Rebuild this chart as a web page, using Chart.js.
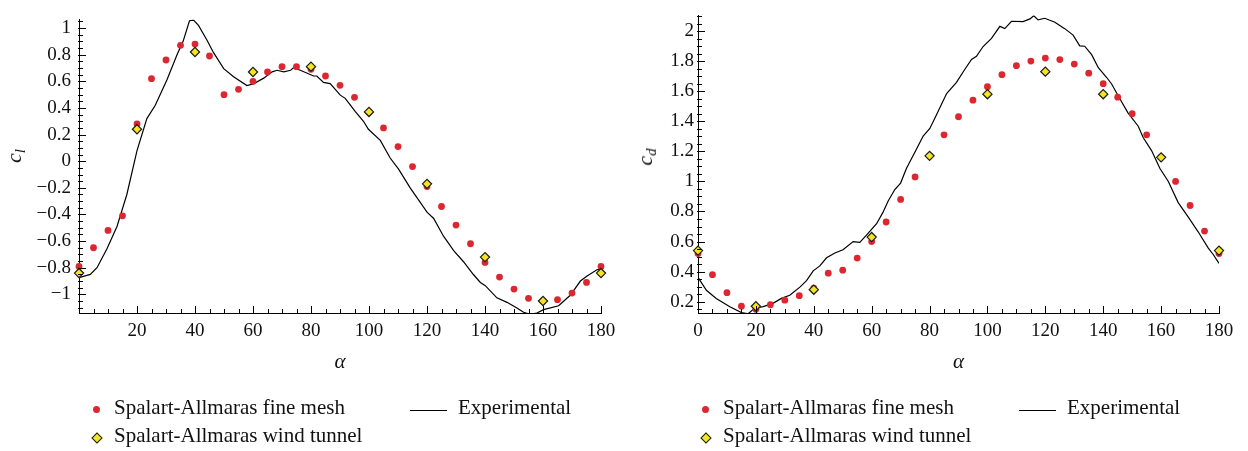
<!DOCTYPE html>
<html>
<head>
<meta charset="utf-8">
<script src="https://cdn.jsdelivr.net/npm/chart.js@4.4.1/dist/chart.umd.min.js"></script>
<style>
  body { margin: 0; background: #fff; }
  #wrap { position: relative; width: 1248px; height: 451px; overflow: hidden; }
  canvas { position: absolute; top: 0; }
  .txt { position: absolute; font-family: "Liberation Serif", serif; font-size: 21px; line-height: 21px; color: #111; white-space: nowrap; }
  .ytitle { position: absolute; font-family: "Liberation Serif", serif; font-style: italic; font-size: 22px; line-height: 22px; color: #111;
            transform: translate(-50%, -50%) rotate(-90deg); white-space: nowrap; }
  .ytitle sub { font-size: 15px; vertical-align: -4px; }
  .dot { position: absolute; width: 7px; height: 7px; border-radius: 50%; background: #dc2730; }
  .dia { position: absolute; width: 6px; height: 6px; background: #f3e620; border: 1.2px solid #1a1a1a; transform: rotate(45deg); }
  .ln { position: absolute; height: 1.2px; background: #000; }
</style>
</head>
<body>
<div id="wrap">
  <canvas id="clChart" width="624" height="451" style="left:0"></canvas>
  <canvas id="cdChart" width="624" height="451" style="left:624px"></canvas>

  <div class="ytitle" style="left:17px;top:156px">c<sub>l</sub></div>
  <div class="ytitle" style="left:648px;top:157px">c<sub>d</sub></div>

  <!-- legenda esquerda -->
  <div class="dot" style="left:93px;top:406px"></div>
  <div class="txt" style="left:114px;top:397px">Spalart-Allmaras fine mesh</div>
  <div class="ln" style="left:410px;top:410px;width:37px"></div>
  <div class="txt" style="left:458px;top:397px">Experimental</div>
  <div class="dia" style="left:93px;top:434px"></div>
  <div class="txt" style="left:114px;top:425px">Spalart-Allmaras wind tunnel</div>

  <!-- legenda direita -->
  <div class="dot" style="left:702px;top:406px"></div>
  <div class="txt" style="left:723px;top:397px">Spalart-Allmaras fine mesh</div>
  <div class="ln" style="left:1019px;top:410px;width:37px"></div>
  <div class="txt" style="left:1067px;top:397px">Experimental</div>
  <div class="dia" style="left:702px;top:434px"></div>
  <div class="txt" style="left:723px;top:425px">Spalart-Allmaras wind tunnel</div>
</div>

<script>
// ângulos das simulações
const alphaFine = [0, 5, 10, 15, 20, 25, 30, 35, 40, 45, 50, 55, 60, 65, 70, 75, 80, 85, 90,
  95, 100, 105, 110, 115, 120, 125, 130, 135, 140, 145, 150, 155, 160, 165, 170, 175, 180];
const alphaTunnel = [0, 20, 40, 60, 80, 100, 120, 140, 160, 180];

// coeficiente de sustentação
const clFine = [-0.79, -0.65, -0.52, -0.41, 0.28, 0.62, 0.76, 0.87, 0.88, 0.79, 0.50, 0.54, 0.60,
  0.67, 0.71, 0.71, 0.69, 0.64, 0.57, 0.48, 0.37, 0.25, 0.11, -0.04, -0.19, -0.34, -0.48, -0.62,
  -0.76, -0.87, -0.96, -1.03, -1.05, -1.04, -0.99, -0.91, -0.79];
const clTunnel = [-0.84, 0.24, 0.82, 0.67, 0.71, 0.37, -0.17, -0.72, -1.05, -0.84];
const clExpAlpha = [0, 3.9, 6.2, 9.6, 13.1, 16.5, 20, 23.4, 26.3, 30.3, 33.8, 35.9, 38.1, 39.5, 41.2,
  44.1, 46.4, 49.9, 53.3, 57.9, 60.3, 63.7, 66.6, 68.3, 70.6, 73, 74, 76.3, 80.9, 82, 84.3, 86.6,
  90.1, 91.8, 95.3, 98.1, 99.8, 103.9, 107.3, 110.2, 114.2, 120, 122.3, 125.7, 129.2, 132.6, 136,
  138.4, 140.1, 144.1, 147.6, 151, 153.3, 155.5, 157.9, 160.2, 165.4, 169.4, 172.9, 175.2, 178.6, 180];
const clExp = [-0.875, -0.85, -0.80, -0.66, -0.49, -0.25, 0.08, 0.32, 0.42, 0.61, 0.80, 0.90, 1.055,
  1.06, 1.02, 0.91, 0.815, 0.695, 0.635, 0.568, 0.583, 0.624, 0.671, 0.683, 0.671, 0.683, 0.703,
  0.683, 0.64, 0.64, 0.592, 0.583, 0.496, 0.472, 0.372, 0.30, 0.24, 0.156, 0.024, -0.06, -0.20,
  -0.383, -0.43, -0.563, -0.671, -0.755, -0.851, -0.911, -0.935, -1.026, -1.06, -1.103, -1.134,
  -1.15, -1.14, -1.115, -1.086, -1.007, -0.90, -0.863, -0.815, -0.81];

// coeficiente de arrasto
const cdFine = [0.52, 0.38, 0.26, 0.17, 0.15, 0.18, 0.21, 0.24, 0.29, 0.39, 0.41, 0.49, 0.60, 0.73,
  0.88, 1.03, 1.17, 1.31, 1.43, 1.54, 1.63, 1.71, 1.77, 1.80, 1.82, 1.81, 1.78, 1.72, 1.65, 1.56,
  1.45, 1.31, 1.16, 1.00, 0.84, 0.67, 0.52];
const cdTunnel = [0.54, 0.17, 0.28, 0.63, 1.17, 1.58, 1.73, 1.58, 1.16, 0.54];
const cdExpAlpha = [0, 2.9, 6.3, 11, 15, 17.3, 19.6, 22.5, 25.9, 28.8, 31.7, 35.2, 37.5, 39.8, 42.1,
  44.4, 47.3, 50.1, 53.6, 55.9, 58.2, 61.7, 63.9, 65.7, 68, 70, 72, 75.5, 77.8, 80.1, 82.4, 85.9,
  89.3, 92.2, 94.5, 96.2, 98.5, 101.4, 104.3, 106, 108.3, 112.3, 114.7, 116, 117.5, 119.8, 123.3,
  126.7, 129.6, 131.9, 133.6, 136, 138.3, 141.2, 142.9, 145.7, 148.6, 152.1, 153.8, 156.7, 159.6,
  162.5, 165.9, 169.4, 172.8, 176.3, 178, 180];
const cdExp = [0.362, 0.276, 0.222, 0.167, 0.128, 0.12, 0.157, 0.167, 0.189, 0.222, 0.243, 0.297,
  0.34, 0.405, 0.438, 0.492, 0.524, 0.546, 0.60, 0.595, 0.643, 0.719, 0.794, 0.87, 0.946, 0.989,
  1.086, 1.216, 1.302, 1.352, 1.443, 1.584, 1.659, 1.746, 1.811, 1.832, 1.897, 1.951, 2.031, 2.016,
  2.065, 2.063, 2.081, 2.102, 2.074, 2.085, 2.059, 2.016, 1.973, 1.901, 1.899, 1.843, 1.756, 1.691,
  1.648, 1.551, 1.454, 1.367, 1.292, 1.205, 1.086, 1.0, 0.859, 0.762, 0.665, 0.556, 0.514, 0.455];

// rótulos dos eixos
const alphaTicksLeft = [20, 40, 60, 80, 100, 120, 140, 160, 180];
const alphaTicksRight = [0, 20, 40, 60, 80, 100, 120, 140, 160, 180];
const clTicks = [-1, -0.8, -0.6, -0.4, -0.2, 0, 0.2, 0.4, 0.6, 0.8, 1];
const cdTicks = [0.2, 0.4, 0.6, 0.8, 1, 1.2, 1.4, 1.6, 1.8, 2];

const FONT = "'Liberation Serif', serif";

function pairs(xs, ys) {
  return xs.map((x, i) => ({ x: x, y: ys[i] }));
}

function fmt(v) {
  return String(v).replace("-", "\u2212");
}

// marcas de escala para dentro do gráfico, com marcas menores
const tickMarks = {
  id: "tickMarks",
  afterDraw(chart) {
    const ctx = chart.ctx;
    const xs = chart.scales.x;
    const ys = chart.scales.y;
    const area = chart.chartArea;
    const left = Math.round(area.left);
    const bottom = Math.round(area.bottom);
    ctx.save();
    ctx.fillStyle = "#000";
    for (let v = 0; v <= 180; v += 5) {
      const px = Math.round(xs.getPixelForValue(v));
      const len = v % 20 === 0 ? 7 : 4;
      ctx.fillRect(px, bottom - len, 1, len + 1);
    }
    const start = Math.ceil(ys.min / 0.05 - 1e-6);
    const end = Math.floor(ys.max / 0.05 + 1e-6);
    for (let k = start; k <= end; k++) {
      const py = Math.round(ys.getPixelForValue(k * 0.05));
      const len = Math.abs(k) % 4 === 0 ? 7 : 4;
      ctx.fillRect(left - 1, py, len + 1, 1);
    }
    ctx.restore();
  },
};
Chart.register(tickMarks);

function makeChart(canvasId, o) {
  return new Chart(document.getElementById(canvasId), {
    type: "scatter",
    data: {
      datasets: [
        {
          label: "Spalart-Allmaras wind tunnel",
          data: pairs(alphaTunnel, o.tunnel),
          pointStyle: "rectRot",
          pointRadius: 4.6,
          backgroundColor: "#f3e620",
          borderColor: "#1a1a1a",
          borderWidth: 1.2,
          clip: false,
        },
        {
          label: "Spalart-Allmaras fine mesh",
          data: pairs(alphaFine, o.fine),
          pointStyle: "circle",
          pointRadius: 3.4,
          backgroundColor: "#dc2730",
          borderWidth: 0,
          clip: false,
        },
        {
          label: "Experimental",
          data: pairs(o.expX, o.expY),
          showLine: true,
          pointRadius: 0,
          borderColor: "#000",
          borderWidth: 1.2,
          clip: 0,
        },
      ],
    },
    options: {
      responsive: false,
      animation: false,
      events: [],
      layout: { padding: { left: 0, top: o.top, right: o.right, bottom: 0 } },
      plugins: { legend: { display: false }, tooltip: { enabled: false } },
      scales: {
        x: {
          type: "linear",
          min: 0,
          max: 180,
          afterFit: (s) => { s.height = 451 - o.bottom; },
          afterBuildTicks: (s) => { s.ticks = o.xTicks.map((v) => ({ value: v })); },
          grid: { display: false, drawTicks: false },
          border: { display: true, color: "#000", width: 1 },
          ticks: {
            color: "#111",
            font: { family: FONT, size: 19 },
            padding: 7,
            maxRotation: 0,
            autoSkip: false,
            callback: (v) => fmt(v),
          },
          title: {
            display: true,
            text: "α",
            color: "#111",
            font: { family: FONT, size: 21, style: "italic" },
            padding: { top: 0, bottom: 76 },
          },
        },
        y: {
          type: "linear",
          min: o.yMin,
          max: o.yMax,
          afterFit: (s) => { s.width = o.left; },
          afterBuildTicks: (s) => { s.ticks = o.yTicks.map((v) => ({ value: v })); },
          grid: { display: false, drawTicks: false },
          border: { display: true, color: "#000", width: 1 },
          ticks: {
            color: "#111",
            font: { family: FONT, size: 19 },
            padding: o.yPad,
            callback: (v) => fmt(v),
          },
        },
      },
    },
  });
}

makeChart("clChart", {
  fine: clFine, tunnel: clTunnel, expX: clExpAlpha, expY: clExp,
  xTicks: alphaTicksLeft, yTicks: clTicks,
  yMin: -1.14, yMax: 1.065,
  left: 79, right: 23, top: 7, bottom: 313, yPad: 8,
});

makeChart("cdChart", {
  fine: cdFine, tunnel: cdTunnel, expX: cdExpAlpha, expY: cdExp,
  xTicks: alphaTicksRight, yTicks: cdTicks,
  yMin: 0.125, yMax: 2.104,
  left: 74, right: 29, top: 8, bottom: 313, yPad: 4,
});
</script>
</body>
</html>
